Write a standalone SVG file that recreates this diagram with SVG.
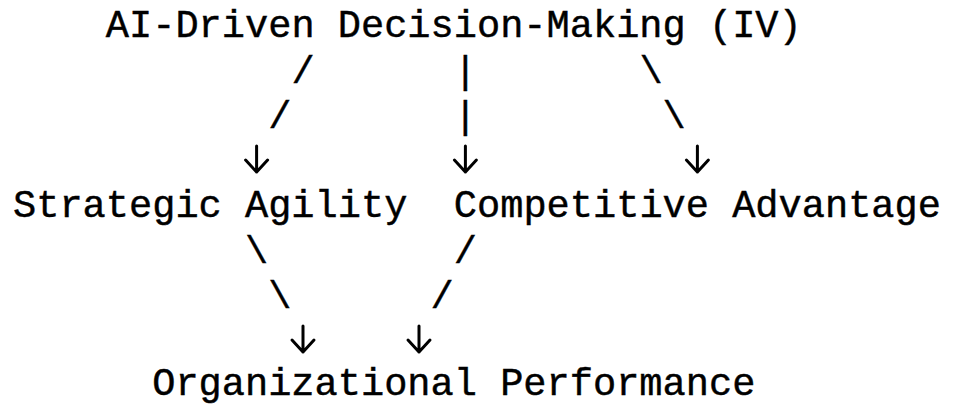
<svg xmlns="http://www.w3.org/2000/svg" width="955" height="406" viewBox="0 0 955 406">
  <style>
    .t { font-family: "Liberation Mono", "DejaVu Sans Mono", monospace; font-size: 38.67px; fill: #000; stroke: #000; stroke-width: 0.45px; }
    .c { text-anchor: middle; }
    .arrow { fill: none; stroke: #000; stroke-width: 3px; stroke-linecap: round; stroke-linejoin: round; }
  </style>
  <defs>
    <!-- down arrow: stem plus open chevron, origin at the tip -->
    <path id="down" class="arrow" d="M0,-26 V0 M-11,-12 L0,0 L11,-12"/>
  </defs>
  <rect width="955" height="406" fill="#fff"/>

  <!-- nodes: monospace grid, 23.2px per column, 45px per row -->
  <g id="node-ai-driven">
    <text class="t" x="105.8" y="37">AI-Driven Decision-Making (IV)</text>
  </g>
  <g id="node-strategic-agility">
    <text class="t" x="13" y="217">Strategic Agility</text>
  </g>
  <g id="node-competitive-advantage">
    <text class="t" x="453.8" y="217">Competitive Advantage</text>
  </g>
  <g id="node-organizational-performance">
    <text class="t" x="152.2" y="395">Organizational Performance</text>
  </g>

  <!-- connectors drawn with ASCII strokes and down arrows -->
  <g id="connectors">
    <g class="t c">
      <!-- AI-Driven -> Strategic Agility -->
      <text x="303" y="82.5">/</text>
      <text x="279.8" y="127.5">/</text>
      <!-- AI-Driven -> Competitive Advantage (middle) -->
      <text x="465.4" y="82.5">|</text>
      <text x="465.4" y="127.5">|</text>
      <!-- AI-Driven -> right branch -->
      <text x="651" y="82.5">\</text>
      <text x="674.2" y="127.5">\</text>
      <!-- Strategic Agility -> Organizational Performance -->
      <text x="256.6" y="262.5">\</text>
      <text x="279.8" y="307.5">\</text>
      <!-- Competitive Advantage -> Organizational Performance -->
      <text x="465.4" y="262.5">/</text>
      <text x="442.2" y="307.5">/</text>
    </g>
    <use href="#down" x="256.6" y="172"/>
    <use href="#down" x="465.4" y="172"/>
    <use href="#down" x="697.4" y="172"/>
    <use href="#down" x="303" y="352"/>
    <use href="#down" x="419" y="352"/>
  </g>
</svg>
